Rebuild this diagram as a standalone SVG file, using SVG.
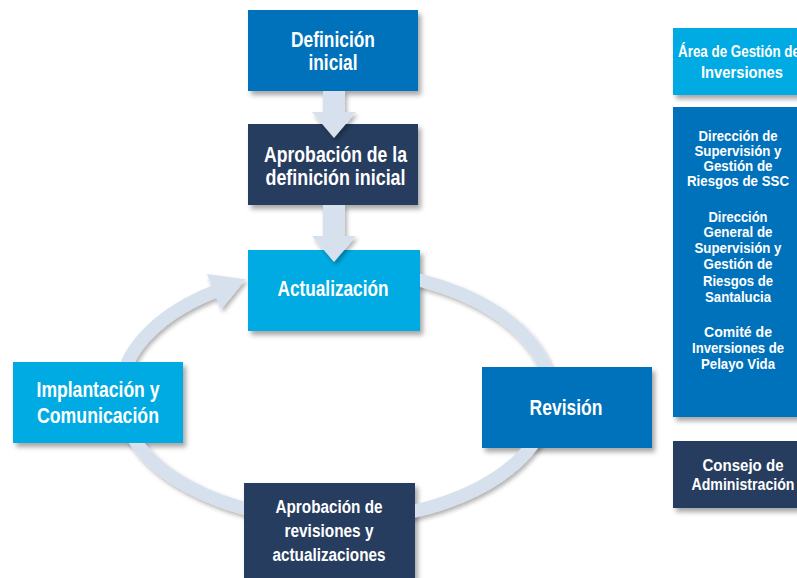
<svg xmlns="http://www.w3.org/2000/svg" width="797" height="578" viewBox="0 0 797 578">
  <defs>
    <filter id="shadow" x="-20%" y="-20%" width="150%" height="150%">
      <feDropShadow dx="3" dy="4" stdDeviation="2.5" flood-color="#000" flood-opacity="0.35"/>
    </filter>
    <filter id="ashadow" x="-20%" y="-20%" width="150%" height="150%">
      <feDropShadow dx="2" dy="3" stdDeviation="2" flood-color="#000" flood-opacity="0.3"/>
    </filter>
    <mask id="ringMask" maskUnits="userSpaceOnUse" x="0" y="0" width="797" height="578">
      <rect x="0" y="0" width="797" height="578" fill="#fff"/>
      <rect x="248" y="250" width="172" height="81" fill="#000"/>
      <rect x="13" y="362" width="170" height="81" fill="#000"/>
      <rect x="482" y="367" width="170" height="81" fill="#000"/>
      <rect x="244" y="483" width="171" height="100" fill="#000"/>
    </mask>
    <style>
      .box { filter: url(#shadow); }
      .blue { fill: #0071BB; }
      .navy { fill: #253E5E; }
      .cyan { fill: #00ABE3; }
      text { font-family: "Liberation Sans Narrow", "Arial Narrow", "Liberation Sans", Arial, sans-serif; font-weight: bold; fill: #fff; text-anchor: middle; }
      .big { font-size: 21.3px; }
      .mid { font-size: 18.7px; }
      .side { font-size: 16.5px; }
      .small { font-size: 15px; }
      .conn { fill: #D7E1EE; }
      .ring { fill: none; stroke: #D7E1EE; stroke-width: 13; }
    </style>
  </defs>

  <g id="n-definicion">
    <rect class="box blue" x="248" y="10" width="170" height="81"/>
    <text class="big" x="333" y="46.7" textLength="84" lengthAdjust="spacingAndGlyphs">Definición</text>
    <text class="big" x="333" y="69.5" textLength="49" lengthAdjust="spacingAndGlyphs">inicial</text>
  </g>
  <g id="n-aprobacion-def">
    <rect class="box navy" x="248" y="124" width="170" height="81"/>
    <text class="big" x="335.5" y="162" textLength="143" lengthAdjust="spacingAndGlyphs">Aprobación de la</text>
    <text class="big" x="335.5" y="185" textLength="140" lengthAdjust="spacingAndGlyphs">definición inicial</text>
  </g>
  <g id="n-actualizacion">
    <rect class="box cyan" x="248" y="250" width="172" height="81"/>
    <text class="big" x="333" y="296" textLength="111" lengthAdjust="spacingAndGlyphs">Actualización</text>
  </g>
  <g id="n-implantacion">
    <rect class="box cyan" x="13" y="362" width="170" height="81"/>
    <text class="big" x="98" y="396.5" textLength="123" lengthAdjust="spacingAndGlyphs">Implantación y</text>
    <text class="big" x="98" y="423.3" textLength="122" lengthAdjust="spacingAndGlyphs">Comunicación</text>
  </g>
  <g id="n-revision">
    <rect class="box blue" x="482" y="367" width="170" height="81"/>
    <text class="big" x="566" y="415" textLength="73" lengthAdjust="spacingAndGlyphs">Revisión</text>
  </g>
  <g id="n-aprobacion-rev">
    <rect class="box navy" x="244" y="483" width="171" height="100"/>
    <text class="mid" x="329" y="513" textLength="107" lengthAdjust="spacingAndGlyphs">Aprobación de</text>
    <text class="mid" x="329" y="537" textLength="89" lengthAdjust="spacingAndGlyphs">revisiones y</text>
    <text class="mid" x="329" y="561" textLength="113" lengthAdjust="spacingAndGlyphs">actualizaciones</text>
  </g>

  <g id="n-area">
    <rect class="box cyan" x="673" y="28" width="140" height="67"/>
    <text class="side" x="739" y="57" textLength="122" lengthAdjust="spacingAndGlyphs">Área de Gestión de</text>
    <text class="side" x="742" y="78" textLength="82" lengthAdjust="spacingAndGlyphs">Inversiones</text>
  </g>
  <g id="n-direccion">
    <rect class="box blue" x="673" y="107" width="140" height="310"/>
    <text class="small" x="738" y="140.5" textLength="79" lengthAdjust="spacingAndGlyphs">Dirección de</text>
    <text class="small" x="738" y="155.5" textLength="87" lengthAdjust="spacingAndGlyphs">Supervisión y</text>
    <text class="small" x="738" y="170.5" textLength="69" lengthAdjust="spacingAndGlyphs">Gestión de</text>
    <text class="small" x="738" y="185.5" textLength="102" lengthAdjust="spacingAndGlyphs">Riesgos de SSC</text>
    <text class="small" x="738" y="222" textLength="59" lengthAdjust="spacingAndGlyphs">Dirección</text>
    <text class="small" x="738" y="237" textLength="69" lengthAdjust="spacingAndGlyphs">General de</text>
    <text class="small" x="738" y="253" textLength="87" lengthAdjust="spacingAndGlyphs">Supervisión y</text>
    <text class="small" x="738" y="269" textLength="69" lengthAdjust="spacingAndGlyphs">Gestión de</text>
    <text class="small" x="738" y="285.5" textLength="70" lengthAdjust="spacingAndGlyphs">Riesgos de</text>
    <text class="small" x="738" y="302" textLength="66" lengthAdjust="spacingAndGlyphs">Santalucia</text>
    <text class="small" x="738" y="337" textLength="68" lengthAdjust="spacingAndGlyphs">Comité de</text>
    <text class="small" x="738" y="353" textLength="92" lengthAdjust="spacingAndGlyphs">Inversiones de</text>
    <text class="small" x="738" y="369" textLength="74" lengthAdjust="spacingAndGlyphs">Pelayo Vida</text>
  </g>
  <g id="n-consejo">
    <rect class="box navy" x="673" y="441" width="140" height="67"/>
    <text class="side" x="743" y="470.5" textLength="81" lengthAdjust="spacingAndGlyphs">Consejo de</text>
    <text class="side" x="743" y="490" textLength="103" lengthAdjust="spacingAndGlyphs">Administración</text>
  </g>

  <g id="connectors">
    <g mask="url(#ringMask)">
      <g filter="url(#ashadow)">
        <path class="ring" d="M400,275.8 A215,125 0 1,1 214,291.7 L216,290.9"/>
        <polygon class="conn" points="207,274 245.6,279.2 221,309.4"/>
      </g>
    </g>
    <g filter="url(#ashadow)">
      <polygon class="conn" points="323,91 345,91 345,112 356,112 334,138 312,112 323,112"/>
      <polygon class="conn" points="323,205 345,205 345,236 356,236 334,262 312,236 323,236"/>
    </g>
  </g>
</svg>
